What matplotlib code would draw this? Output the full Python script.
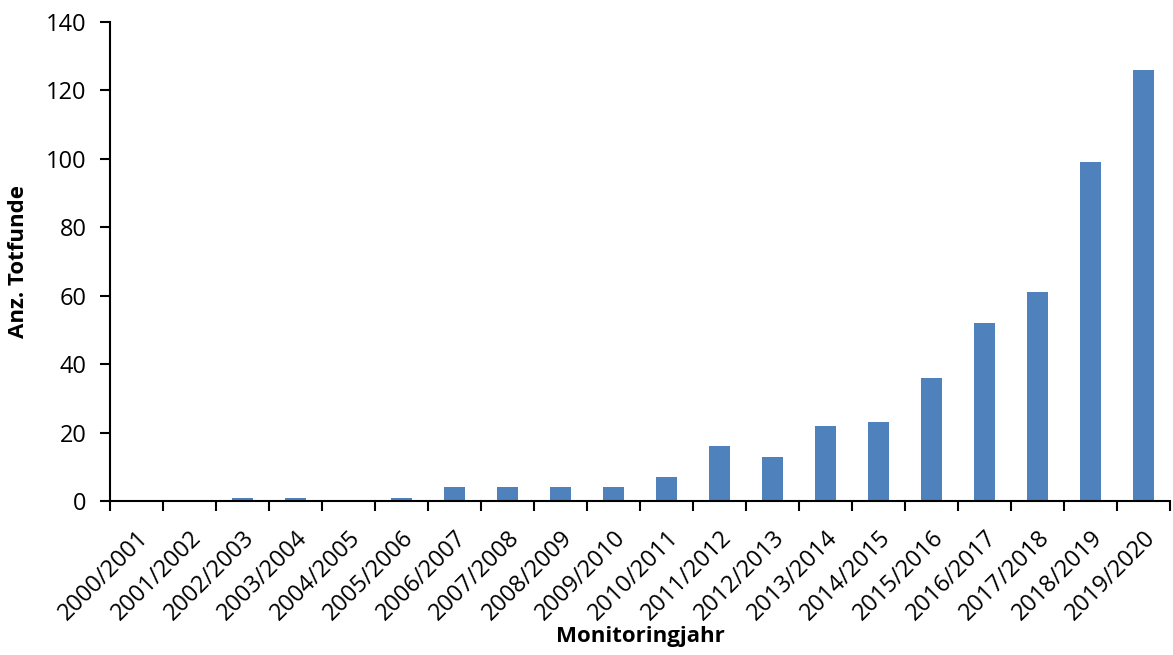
import matplotlib
matplotlib.use("Agg")
import matplotlib.pyplot as plt
import numpy as np

categories = ["2000/2001", "2001/2002", "2002/2003", "2003/2004", "2004/2005",
              "2005/2006", "2006/2007", "2007/2008", "2008/2009", "2009/2010",
              "2010/2011", "2011/2012", "2012/2013", "2013/2014", "2014/2015",
              "2015/2016", "2016/2017", "2017/2018", "2018/2019", "2019/2020"]
values = [0, 0, 1, 1, 0, 1, 4, 4, 4, 4, 7, 16, 13, 22, 23, 36, 52, 61, 99, 126]
yticks = [0, 20, 40, 60, 80, 100, 120, 140]

plt.rcParams['font.family'] = ['Open Sans', 'DejaVu Sans']

fig = plt.figure(figsize=(11.73, 6.55), dpi=100)
ax = fig.add_axes([110/1173, 1 - 501/655, 1060/1173, 479/655])

x = np.arange(len(categories)) + 0.5
ax.bar(x, values, width=0.4, color="#4F81BD")

ax.set_xlim(0, len(categories))
ax.set_ylim(0, 140)
ax.set_yticks(yticks)
ax.set_xticks(x)
ax.set_xticklabels(categories, rotation=45, ha="right", rotation_mode="anchor", fontsize=17)
ax.set_xticks(np.arange(len(categories) + 1), minor=True)
ax.tick_params(axis="x", which="major", length=0, pad=18)
ax.tick_params(axis="x", which="minor", length=7, width=1.5, direction="out")
ax.tick_params(axis="y", length=7, width=1.5, direction="out", labelsize=17, pad=10)

for s in ["top", "right"]:
    ax.spines[s].set_visible(False)
for s in ["left", "bottom"]:
    ax.spines[s].set_linewidth(1.5)

ax.set_ylabel("Anz. Totfunde", fontsize=16, fontweight="bold", labelpad=12)
ax.set_xlabel("Monitoringjahr", fontsize=16, fontweight="bold", labelpad=0)

fig.savefig("out.png", dpi=100)
